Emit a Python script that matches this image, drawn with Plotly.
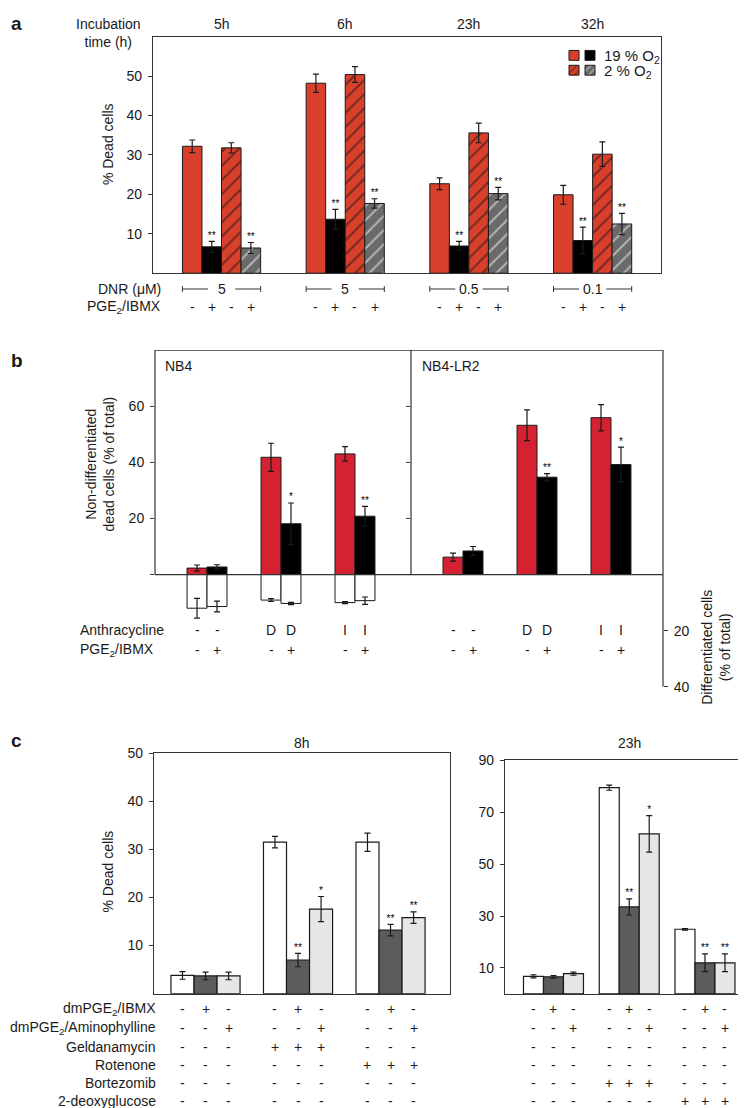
import plotly.graph_objects as go

W, H = 746, 1108
def fx(px): return px / W
def fy(py): return 1 - py / H

FONT = "Liberation Sans, Arial, Helvetica, sans-serif"
TXT = "#1a1a1a"
LINE = "#333333"

# ---------------- data: panel a ----------------
a_times = ["5h", "6h", "23h", "32h"]
a_dnr = ["5", "5", "0.5", "0.1"]
a_pge = ["-", "+", "-", "+"]
a_o19_ctrl = [32.2, 48.2, 22.7, 19.9]
a_o19_ctrl_err = [1.6, 2.3, 1.5, 2.4]
a_o19_pge = [6.7, 13.7, 6.9, 8.3]
a_o19_pge_err = [1.4, 2.5, 1.2, 3.4]
a_o2_ctrl = [31.8, 50.4, 35.6, 30.2]
a_o2_ctrl_err = [1.3, 2.0, 2.5, 3.1]
a_o2_pge = [6.4, 17.7, 20.2, 12.5]
a_o2_pge_err = [1.4, 1.2, 1.6, 2.7]
a_sig_o19_pge = ["**", "**", "**", "**"]
a_sig_o2_pge = ["**", "**", "**", "**"]
a_legend = ["19 % O<sub>2</sub>", "2 % O<sub>2</sub>"]

# ---------------- data: panel b ----------------
b_anth = ["-", "D", "I"]
b_pge = ["-", "+"]
nb4_ctrl = [2.3, 41.8, 43.0]
nb4_ctrl_err = [1.1, 5.0, 2.6]
nb4_pge = [2.7, 18.1, 20.8]
nb4_pge_err = [0.8, 7.4, 3.5]
nb4_sig = ["", "*", "**"]
nb4_diff_ctrl = [12.0, 9.1, 10.0]
nb4_diff_ctrl_err = [3.5, 0.5, 0.4]
nb4_diff_pge = [11.4, 10.3, 9.3]
nb4_diff_pge_err = [1.9, 0.4, 1.3]
lr2_ctrl = [6.2, 53.2, 55.9]
lr2_ctrl_err = [1.4, 5.5, 4.7]
lr2_pge = [8.4, 34.7, 39.2]
lr2_pge_err = [1.6, 1.3, 6.2]
lr2_sig = ["", "**", "*"]

# ---------------- data: panel c ----------------
c_rows = ["dmPGE<sub>2</sub>/IBMX", "dmPGE<sub>2</sub>/Aminophylline", "Geldanamycin",
          "Rotenone", "Bortezomib", "2-deoxyglucose"]
c8_ctrl = [3.8, 31.5, 31.5]
c8_ctrl_err = [0.8, 1.2, 1.9]
c8_ibmx = [3.7, 7.0, 13.2]
c8_ibmx_err = [0.8, 1.4, 1.2]
c8_amino = [3.7, 17.6, 15.8]
c8_amino_err = [0.8, 2.6, 1.2]
c8_sig_ibmx = ["", "**", "**"]
c8_sig_amino = ["", "*", "**"]
c8_table = ["-+--+--+-", "--+--+--+", "---+++---", "------+++", "---------", "---------"]
c23_ctrl = [6.8, 79.4, 24.9]
c23_ctrl_err = [0.6, 1.0, 0.3]
c23_ibmx = [6.6, 33.5, 12.0]
c23_ibmx_err = [0.5, 3.1, 3.4]
c23_amino = [7.8, 61.6, 12.0]
c23_amino_err = [0.6, 7.0, 3.4]
c23_sig_ibmx = ["", "**", "**"]
c23_sig_amino = ["", "*", "**"]
c23_table = ["-+--+--+-", "--+--+--+", "---------", "---------", "---+++---", "------+++"]

RED_A = "#d8402c"
RED_B = "#d42232"
GRAY_A = "#6a6a6a"
DARK_C = "#5c5c5c"
LIGHT_C = "#e6e6e6"
FS = 14

fig = go.Figure()
annotations = []
shapes = []

def ann(text, x, y, xref="paper", yref="paper", xanchor="center", yanchor="middle",
        size=FS, **kw):
    d = dict(text=text, x=x, y=y, xref=xref, yref=yref, xanchor=xanchor, yanchor=yanchor,
             showarrow=False, font=dict(family=FONT, size=size, color=TXT))
    d.update(kw)
    annotations.append(d)

def err(vals):
    return dict(type="data", array=vals, color="#1a1a1a", thickness=1.2, width=3)

def sig_trace(xs, ys, es, sig, xa, ya, size=10):
    pts = [(x, v + e, s) for x, v, e, s in zip(xs, ys, es, sig) if s]
    if not pts:
        return
    fig.add_trace(go.Scatter(x=[p[0] for p in pts], y=[p[1] for p in pts],
                             text=[p[2] for p in pts],
                             mode="text", textposition="top center",
                             textfont=dict(family=FONT, size=size, color="#000000"),
                             xaxis=xa, yaxis=ya, showlegend=False, hoverinfo="skip"))

# ================= panel a =================
wa = 0.158
a_series = [
    (a_o19_ctrl, a_o19_ctrl_err, RED_A, None, None),
    (a_o19_pge, a_o19_pge_err, "#000000", None, a_sig_o19_pge),
    (a_o2_ctrl, a_o2_ctrl_err, RED_A, "#111111", None),
    (a_o2_pge, a_o2_pge_err, GRAY_A, "#ffffff", a_sig_o2_pge),
]
for k, (vals, errs, col, hatch, sig) in enumerate(a_series):
    xs = [g + (k - 1.5) * wa for g in range(len(a_times))]
    marker = dict(color=col, line=dict(color="#1a1a1a", width=1))
    if hatch:
        marker["pattern"] = dict(shape="/", fillmode="overlay", fgcolor=hatch, size=10, solidity=0.2)
    fig.add_trace(go.Bar(x=xs, y=vals, width=wa, marker=marker, error_y=err(errs),
                         xaxis="x", yaxis="y", showlegend=False))
    if sig:
        sig_trace(xs, vals, errs, sig, "x", "y")

half_gap = 0.11
bl1 = dict(color=LINE, width=1)
for g, t in enumerate(a_times):
    ann(t, g, fy(8), xref="x")
    # DNR bracket: two segments with a gap for the label, plus end ticks
    x0, x1 = g - 2 * wa, g + 2 * wa
    yb = fy(277)
    shapes.append(dict(type="line", xref="x", yref="paper", x0=x0, x1=g - half_gap,
                       y0=yb, y1=yb, line=bl1))
    shapes.append(dict(type="line", xref="x", yref="paper", x0=g + half_gap, x1=x1,
                       y0=yb, y1=yb, line=bl1))
    for xe in (x0, x1):
        shapes.append(dict(type="line", xref="x", yref="paper", x0=xe, x1=xe,
                           y0=yb - 3 / H, y1=yb + 3 / H, line=bl1))
    ann(a_dnr[g], g, yb, xref="x")
    for k, s in enumerate(a_pge):
        ann(s, g + (k - 1.5) * wa, fy(295), xref="x")

ann("Incubation<br>time (h)", fx(100), fy(17))
ann("DNR (μM)", fx(155), fy(277), xanchor="right")
ann("PGE<sub>2</sub>/IBMX", fx(155), fy(295), xanchor="right")
ann("% Dead cells", fx(100), fy(130), textangle=-90)
ann("<b>a</b>", fx(1), fy(8), xanchor="left", size=19)

# legend (mini axes)
leg_styles = [(RED_A, None), ("#000000", None), (RED_A, "#111111"), (GRAY_A, "#ffffff")]
for i, (col, hatch) in enumerate(leg_styles):
    row = 1 - i // 2
    marker = dict(color=col, line=dict(color="#1a1a1a", width=1))
    if hatch:
        marker["pattern"] = dict(shape="/", fillmode="overlay", fgcolor=hatch, size=5, solidity=0.25)
    fig.add_trace(go.Bar(x=[i % 2], y=[0.667], base=[row + 0.5 - 0.333], width=0.625,
                         marker=marker, xaxis="x7", yaxis="y7", showlegend=False, hoverinfo="skip"))
ann(a_legend[0], fx(594), fy(41), xanchor="left", size=15)
ann(a_legend[1], fx(594), fy(56), xanchor="left", size=15)

# ================= panel b =================
wb = 0.27
for xa, ya, ctrl, ce, pge, pe, sig in [
        ("x2", "y2", nb4_ctrl, nb4_ctrl_err, nb4_pge, nb4_pge_err, nb4_sig),
        ("x3", "y3", lr2_ctrl, lr2_ctrl_err, lr2_pge, lr2_pge_err, lr2_sig)]:
    for k, (vals, errs, col) in enumerate([(ctrl, ce, RED_B), (pge, pe, "#000000")]):
        xs = [g + (k - 0.5) * wb for g in range(len(b_anth))]
        fig.add_trace(go.Bar(x=xs, y=vals, width=wb,
                             marker=dict(color=col, line=dict(color="#1a1a1a", width=1)),
                             error_y=err(errs), xaxis=xa, yaxis=ya, showlegend=False))
        if k == 1:
            sig_trace(xs, vals, errs, sig, xa, ya)
    for g, a in enumerate(b_anth):
        for k, p in enumerate(b_pge):
            xx = g + (k - 0.5) * wb
            ann(a, xx, fy(623), xref=xa)
            ann(p, xx, fy(643), xref=xa)

for k, (vals, errs) in enumerate([(nb4_diff_ctrl, nb4_diff_ctrl_err), (nb4_diff_pge, nb4_diff_pge_err)]):
    xs = [g + (k - 0.5) * wb for g in range(len(b_anth))]
    fig.add_trace(go.Bar(x=xs, y=[-v for v in vals], width=wb,
                         marker=dict(color="white", line=dict(color="#1a1a1a", width=1)),
                         error_y=err(errs), xaxis="x2", yaxis="y2", showlegend=False))
# invisible trace for the differentiated-cells axis
fig.add_trace(go.Scatter(x=[None], y=[None], xaxis="x3", yaxis="y4", showlegend=False))

# frame lines of panel b
bl = dict(color=LINE, width=1.2)
shapes += [
    dict(type="line", xref="x2 domain", yref="y2", x0=0, x1=0, y0=0, y1=80, line=bl),
    dict(type="line", xref="x2 domain", yref="y2", x0=0, x1=1, y0=80, y1=80, line=bl),
    dict(type="line", xref="x3 domain", yref="y3", x0=0, x1=1, y0=80, y1=80, line=bl),
    dict(type="line", xref="x3 domain", yref="y3", x0=0, x1=0, y0=0, y1=80, line=bl),
    dict(type="line", xref="x3 domain", yref="y3", x0=1, x1=1, y0=-40, y1=80, line=bl),
    dict(type="line", xref="x2 domain", yref="y2", x0=0, x1=1, y0=0, y1=0, line=bl),
    dict(type="line", xref="x3 domain", yref="y3", x0=0, x1=1, y0=0, y1=0, line=bl),
]
ann("NB4", fx(155), fy(355), xanchor="left")
ann("NB4-LR2", fx(412), fy(355), xanchor="left")
ann("Anthracycline", fx(70), fy(623), xanchor="left")
ann("PGE<sub>2</sub>/IBMX", fx(70), fy(643), xanchor="left")
ann("Non-differentiated<br>dead cells (% of total)", fx(92), fy(455), textangle=-90)
ann("Differentiated cells<br>(% of total)", fx(708), fy(641), textangle=-90)
ann("<b>b</b>", fx(1), fy(350), xanchor="left", size=19)

# ================= panel c =================
row_y = [1008, 1027, 1046, 1064, 1083, 1101]
for xa, ya, wc, sets, table, title in [
        ("x5", "y5", 0.249,
         [(c8_ctrl, c8_ctrl_err, "white", None), (c8_ibmx, c8_ibmx_err, DARK_C, c8_sig_ibmx),
          (c8_amino, c8_amino_err, LIGHT_C, c8_sig_amino)], c8_table, "8h"),
        ("x6", "y6", 0.264,
         [(c23_ctrl, c23_ctrl_err, "white", None), (c23_ibmx, c23_ibmx_err, DARK_C, c23_sig_ibmx),
          (c23_amino, c23_amino_err, LIGHT_C, c23_sig_amino)], c23_table, "23h")]:
    for k, (vals, errs, col, sig) in enumerate(sets):
        xs = [g + (k - 1) * wc for g in range(3)]
        fig.add_trace(go.Bar(x=xs, y=vals, width=wc,
                             marker=dict(color=col, line=dict(color="#1a1a1a", width=1.2)),
                             error_y=err(errs), xaxis=xa, yaxis=ya, showlegend=False))
        if sig:
            sig_trace(xs, vals, errs, sig, xa, ya)
    for r, line in enumerate(table):
        for j, ch in enumerate(line):
            g, k = divmod(j, 3)
            ann(ch, g + (k - 1) * wc, fy(row_y[r]), xref=xa)
    ann(title, 0.5, fy(738), xref=xa + " domain")

for r, name in enumerate(c_rows):
    ann(name, fx(150), fy(row_y[r]), xanchor="right")
ann("% Dead cells", fx(100), fy(868), textangle=-90)
ann("<b>c</b>", fx(1), fy(735), xanchor="left", size=19)

# ================= layout =================
tickfont = dict(family=FONT, size=FS, color=TXT)
def xax(dom, rng, anchor, line=True):
    return dict(domain=dom, range=rng, anchor=anchor, showticklabels=False, ticks="",
                showgrid=False, zeroline=False, showline=line, mirror=line,
                linecolor=LINE, linewidth=1.2, fixedrange=True)
def yax(dom, rng, anchor, tv, tt=None, line=True, standoff=3, **kw):
    d = dict(domain=dom, range=rng, anchor=anchor, tickvals=tv, ticks="outside", ticklen=4,
             tickcolor=LINE, tickwidth=1, tickfont=tickfont, showgrid=False, zeroline=False,
             showline=line, mirror=line, linecolor=LINE, linewidth=1.2,
             ticklabelstandoff=standoff, fixedrange=True)
    if tt is not None:
        d["ticktext"] = tt
    d.update(kw)
    return d

fig.update_layout(
    width=W, height=H, margin=dict(l=0, r=0, t=0, b=0),
    paper_bgcolor="white", plot_bgcolor="rgba(0,0,0,0)",
    barmode="overlay", showlegend=False, font=dict(family=FONT, color=TXT),
    xaxis=xax([fx(145), fx(653)], [-0.554, 3.553], "y"),
    yaxis=yax([fy(261), fy(21)], [0, 60], "x", [10, 20, 30, 40, 50]),
    xaxis2=xax([fx(147), fx(403)], [-0.703, 2.757], "y2", line=False),
    yaxis2=yax([fy(680.6), fy(339)], [-40, 80], "x2", [0, 20, 40, 60], ["", "20", "40", "60"], line=False),
    xaxis3=xax([fx(403), fx(655)], [-0.703, 2.703], "y3", line=False),
    yaxis3=yax([fy(680.6), fy(339)], [-40, 80], "x3", [20, 40, 60], line=False, showticklabels=False),
    yaxis4=yax([fy(680.6), fy(339)], [40, -80], "x3", [20, 40], line=False, side="right"),
    xaxis5=xax([fx(146), fx(442)], [-0.557, 2.643], "y5"),
    yaxis5=yax([fy(992), fy(748)], [0, 50], "x5", [10, 20, 30, 40, 50]),
    xaxis6=xax([fx(497), fx(745)], [-0.640, 2.634], "y6"),
    yaxis6=yax([fy(992.3), fy(755)], [0, 90], "x6", [10, 30, 50, 70, 90]),
    xaxis7=dict(domain=[fx(558), fx(590)], range=[-0.5, 1.5], anchor="y7", visible=False, fixedrange=True),
    yaxis7=dict(domain=[fy(62.5), fy(32.5)], range=[0, 2], anchor="x7", visible=False, fixedrange=True),
    annotations=annotations, shapes=shapes,
)

fig.write_html("out.html")
